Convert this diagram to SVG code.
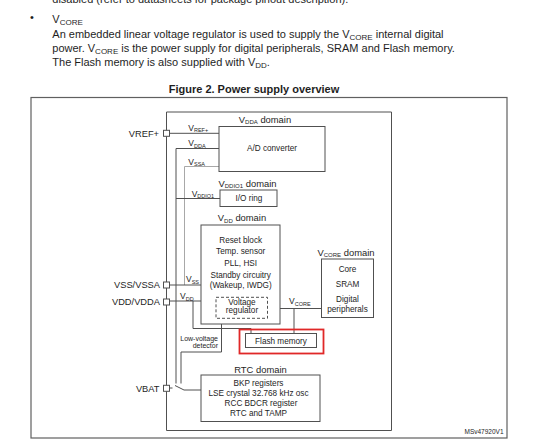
<svg xmlns="http://www.w3.org/2000/svg" width="554" height="446" viewBox="0 0 554 446">
<style>
text{font-family:"Liberation Sans",Arial,sans-serif;fill:#1e1e1e}
.hd{font-size:11px}
.ttl{font-size:11px;font-weight:bold;text-anchor:middle}
.pin{font-size:9.3px;text-anchor:end}
.dom{font-size:9.4px;text-anchor:middle}
.bx{font-size:8.2px;text-anchor:middle}
.wl{font-size:8.5px}
.sm{font-size:7px;text-anchor:end}
.box{fill:#fff;stroke:#505050;stroke-width:1}
.w{fill:none;stroke:#505050;stroke-width:1}
.wg{fill:none;stroke:#a8a8a8;stroke-width:1}
.pad{fill:#fff;stroke:#505050;stroke-width:1}
</style>
<rect width="554" height="446" fill="#fff"/>

<g id="header">
<text class="hd" x="52.3" y="3">disabled (refer to datasheets for package pinout description).</text>
<text class="hd" x="30" y="21">•</text>
<text class="hd" x="52.3" y="22.7">V<tspan font-size="8" dy="2">CORE</tspan></text>
<text class="hd" x="52.3" y="37.5">An embedded linear voltage regulator is used to supply the V<tspan font-size="8" dy="2">CORE</tspan><tspan dy="-2"> internal digital</tspan></text>
<text class="hd" x="52.3" y="51.5">power. V<tspan font-size="8" dy="2">CORE</tspan><tspan dy="-2"> is the power supply for digital peripherals, SRAM and Flash memory.</tspan></text>
<text class="hd" x="52.3" y="65.5">The Flash memory is also supplied with V<tspan font-size="8" dy="2">DD</tspan><tspan dy="-2">.</tspan></text>
</g>

<g id="title">
<text class="ttl" x="254" y="93.3">Figure 2. Power supply overview</text>
</g>

<g id="frame">
<rect x="31" y="97.5" width="476" height="340.5" fill="none" stroke="#606060" stroke-width="1.2"/>
<path d="M166.5,112 H391.5 V430.5 H166.5 Z" fill="none" stroke="#505050" stroke-width="1"/>
<text x="503.5" y="433.5" font-size="6.5" text-anchor="end">MSv47920V1</text>
</g>

<g id="connectors">
<path class="w" d="M169.5,133.3 H219"/>
<path class="w" d="M176,148.5 H219 M176,148.5 V383.5"/>
<path class="wg" d="M184.5,166.5 H219 M184.5,166.5 V285"/>
<path class="w" d="M176,198.5 H220"/>
<path class="w" d="M169.5,285 H201"/>
<path class="w" d="M169.5,301 H201 M193,301 V328.5 H251 V333.5"/>
<path class="w" d="M267.5,308.5 H321.5 M294,308.5 V333.5"/>
<path class="w" d="M221.5,324 V352 H181 V383.5"/>
<path class="w" d="M169.5,388 H172.5 M175,385.5 L184,390 H201"/>
<text class="wl" x="188.3" y="130.5">V<tspan font-size="5.5" dy="1.5">REF+</tspan></text>
<text class="wl" x="188.3" y="146.3">V<tspan font-size="5.5" dy="1.5">DDA</tspan></text>
<text class="wl" x="188.3" y="164.5">V<tspan font-size="5.5" dy="1.5">SSA</tspan></text>
<text class="wl" x="191.7" y="196.5">V<tspan font-size="5.5" dy="1.5">DDIO1</tspan></text>
<text class="wl" x="186" y="282">V<tspan font-size="5.5" dy="1.5">SS</tspan></text>
<text class="wl" x="180" y="299">V<tspan font-size="5.5" dy="1.5">DD</tspan></text>
<text class="wl" x="289" y="304.3">V<tspan font-size="5.5" dy="1.5">CORE</tspan></text>
</g>

<g id="pad-vref">
<rect class="pad" x="163.5" y="130.3" width="6" height="6"/>
<text class="pin" x="159" y="136.8">VREF+</text>
</g>
<g id="pad-vss">
<rect class="pad" x="163.5" y="282" width="6" height="6"/>
<text class="pin" x="160" y="287.8">VSS/VSSA</text>
</g>
<g id="pad-vdd">
<rect class="pad" x="163.5" y="299" width="6" height="6"/>
<text class="pin" x="160" y="305">VDD/VDDA</text>
</g>
<g id="pad-vbat">
<rect class="pad" x="163.5" y="385.3" width="6" height="6"/>
<text class="pin" x="159.5" y="391.5">VBAT</text>
</g>

<g id="adc">
<text class="dom" x="265" y="122.7">V<tspan font-size="6" dy="1.5">DDA</tspan><tspan dy="-1.5"> domain</tspan></text>
<rect class="box" x="219" y="126.5" width="106" height="45"/>
<text class="bx" x="272" y="151">A/D converter</text>
</g>

<g id="io-ring">
<text class="dom" x="247.5" y="186.7">V<tspan font-size="6" dy="1.5">DDIO1</tspan><tspan dy="-1.5"> domain</tspan></text>
<rect class="box" x="220" y="190" width="57" height="16.5"/>
<text class="bx" x="249" y="201.3">I/O ring</text>
</g>

<g id="vdd-domain">
<text class="dom" x="242" y="221">V<tspan font-size="6" dy="1.5">DD</tspan><tspan dy="-1.5"> domain</tspan></text>
<rect class="box" x="201" y="225" width="79" height="99"/>
<text class="bx" x="240.7" y="242.7">Reset block</text>
<text class="bx" x="240.7" y="254.3">Temp. sensor</text>
<text class="bx" x="240.7" y="266">PLL, HSI</text>
<text class="bx" x="240.7" y="278.3">Standby circuitry</text>
<text class="bx" x="240.7" y="287.5">(Wakeup, IWDG)</text>
</g>

<g id="voltage-regulator">
<rect x="216" y="297.3" width="51.5" height="21" fill="#fff" stroke="#505050" stroke-width="1" stroke-dasharray="3,2"/>
<text class="bx" x="242" y="305.3">Voltage</text>
<text class="bx" x="242" y="313">regulator</text>
</g>

<g id="lv-detector">
<text class="sm" x="218" y="340.5">Low-voltage</text>
<text class="sm" x="218" y="348.3">detector</text>
</g>

<g id="vcore-domain">
<text class="dom" x="346" y="255.5">V<tspan font-size="6" dy="1.5">CORE</tspan><tspan dy="-1.5"> domain</tspan></text>
<rect class="box" x="321.5" y="259" width="52" height="58.5"/>
<text class="bx" x="347.5" y="271.7">Core</text>
<text class="bx" x="347.5" y="286.7">SRAM</text>
<text class="bx" x="347.5" y="302.3">Digital</text>
<text class="bx" x="347.5" y="311.7">peripherals</text>
</g>

<g id="flash">
<rect class="box" x="245.5" y="333.5" width="71" height="14"/>
<text class="bx" x="281" y="343.5">Flash memory</text>
<rect x="239.5" y="329.5" width="84" height="24" fill="none" stroke="#e02828" stroke-width="1.8"/>
</g>

<g id="rtc-domain">
<text class="dom" x="260.5" y="373.3">RTC domain</text>
<rect class="box" x="201" y="375" width="119" height="46.5"/>
<text class="bx" x="258.5" y="386">BKP registers</text>
<text class="bx" x="258.5" y="395.7">LSE crystal 32.768 kHz osc</text>
<text class="bx" x="261" y="406">RCC BDCR register</text>
<text class="bx" x="258.5" y="415.7">RTC and TAMP</text>
</g>
</svg>
